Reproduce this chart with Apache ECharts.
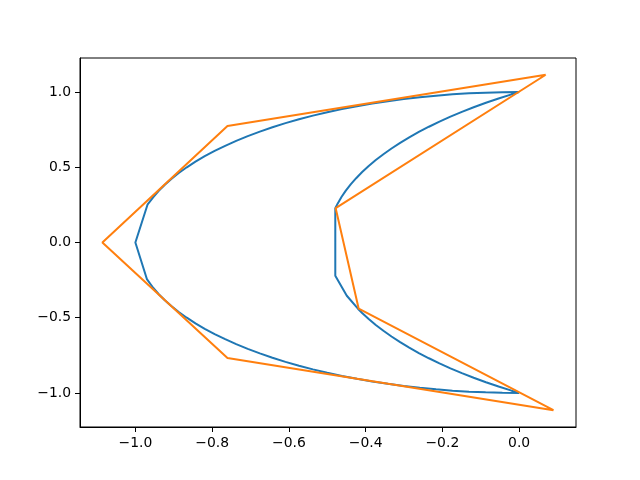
<!DOCTYPE html>
<html><head><meta charset="utf-8">
<script src="https://cdn.jsdelivr.net/npm/echarts@6/dist/echarts.min.js"></script>
<style>html,body{margin:0;padding:0;background:#fff}#c{width:640px;height:480px}</style>
</head><body><div id="c"></div>
<script>
// Blue curve (crescent outline): outer arc top -> left -> bottom, then inner arc bottom -> top
const blueX = [0, -0.0436, -0.0872, -0.1305, -0.1736, -0.2164, -0.2588, -0.3007, -0.3420, -0.3827, -0.4226, -0.4617, -0.5, -0.5373, -0.5736, -0.6088, -0.6428, -0.6756, -0.7071, -0.7373, -0.7660, -0.7934, -0.8192, -0.8434, -0.8660, -0.8870, -0.9063, -0.9239, -0.9397, -0.9537, -0.968, -1.0,
  -0.970, -0.9537, -0.9397, -0.9239, -0.9063, -0.8870, -0.8660, -0.8434, -0.8192, -0.7934, -0.7660, -0.7373, -0.7071, -0.6756, -0.6428, -0.6088, -0.5736, -0.5373, -0.5, -0.4617, -0.4226, -0.3827, -0.3420, -0.3007, -0.2588, -0.2164, -0.1736, -0.1305, -0.0872, -0.0436, 0,
  -0.0196, -0.0535, -0.0864, -0.1184, -0.1491, -0.1789, -0.2075, -0.235, -0.2613, -0.2863, -0.31, -0.3325, -0.3536, -0.3735, -0.3919, -0.409, -0.420, -0.449, -0.479,
  -0.479, -0.4726, -0.4629, -0.4516, -0.4389, -0.4246, -0.409, -0.3919, -0.3735, -0.3536, -0.3325, -0.31, -0.2863, -0.2613, -0.235, -0.2075, -0.1789, -0.1491, -0.1184, -0.0864, -0.0535, -0.0196, 0];
const blueY = [1, 0.9990, 0.9962, 0.9914, 0.9848, 0.9763, 0.9659, 0.9537, 0.9397, 0.9239, 0.9063, 0.8870, 0.8660, 0.8434, 0.8192, 0.7934, 0.7660, 0.7373, 0.7071, 0.6756, 0.6428, 0.6088, 0.5736, 0.5373, 0.5, 0.4617, 0.4226, 0.3827, 0.3420, 0.3007, 0.254, 0.0,
  -0.243, -0.3007, -0.3420, -0.3827, -0.4226, -0.4617, -0.5, -0.5373, -0.5736, -0.6088, -0.6428, -0.6756, -0.7071, -0.7373, -0.7660, -0.7934, -0.8192, -0.8434, -0.8660, -0.8870, -0.9063, -0.9239, -0.9397, -0.9537, -0.9659, -0.9763, -0.9848, -0.9914, -0.9962, -0.9990, -1,
  -0.985, -0.9575, -0.9289, -0.8991, -0.8684, -0.8364, -0.8035, -0.7696, -0.7347, -0.699, -0.6624, -0.625, -0.5869, -0.548, -0.5084, -0.4683, -0.440, -0.354, -0.221,
  0.228, 0.2599, 0.3024, 0.3445, 0.3863, 0.4275, 0.4683, 0.5084, 0.548, 0.5869, 0.625, 0.6624, 0.699, 0.7347, 0.7696, 0.8035, 0.8364, 0.8684, 0.8991, 0.9289, 0.9575, 0.985, 1];
// Orange control polygon
const orangeX = [0.0695, -0.760, -1.086, -0.760, 0.0895, -0.418, -0.478, 0.0695];
const orangeY = [1.115, 0.774, 0.0, -0.768, -1.115, -0.440, 0.228, 1.115];
// Ticks
const xTicks = [-1.0, -0.8, -0.6, -0.4, -0.2, 0.0];
const yTicks = [-1.0, -0.5, 0.0, 0.5, 1.0];

const zip = (xs, ys) => xs.map((x, i) => [x, ys[i]]);
const fmt = v => { const s = Math.abs(v).toFixed(1); return (v < -1e-9 ? '\u2212' : '') + s; };
const font = { fontFamily: 'DejaVu Sans', fontSize: 13.9, color: '#000' };

const chart = echarts.init(document.getElementById('c'), null, { renderer: 'canvas' });
chart.setOption({
  animation: false,
  backgroundColor: '#fff',
  grid: { left: 80, right: 64, top: 58, bottom: 53, show: true, borderColor: '#000', borderWidth: 1, backgroundColor: 'transparent' },
  xAxis: {
    type: 'value', min: -1.1443, max: 0.1483,
    splitLine: { show: false },
    axisLine: { show: true, onZero: false, lineStyle: { color: '#000', width: 1 } },
    axisTick: { show: true, inside: false, length: 5, lineStyle: { color: '#000', width: 1 }, customValues: xTicks },
    axisLabel: Object.assign({ margin: 9, customValues: xTicks, formatter: fmt }, font)
  },
  yAxis: {
    type: 'value', min: -1.2265, max: 1.2265,
    splitLine: { show: false },
    axisLine: { show: true, onZero: false, lineStyle: { color: '#000', width: 1 } },
    axisTick: { show: true, inside: false, length: 5, lineStyle: { color: '#000', width: 1 }, customValues: yTicks },
    axisLabel: Object.assign({ margin: 9, customValues: yTicks, formatter: fmt }, font)
  },
  series: [
    { type: 'line', data: zip(blueX, blueY), showSymbol: false, smooth: false,
      lineStyle: { color: '#1f77b4', width: 2 }, itemStyle: { color: '#1f77b4' }, z: 2 },
    { type: 'line', data: zip(orangeX, orangeY), showSymbol: false, smooth: false,
      lineStyle: { color: '#ff7f0e', width: 2 }, itemStyle: { color: '#ff7f0e' }, z: 3 }
  ]
});
</script>
</body></html>
